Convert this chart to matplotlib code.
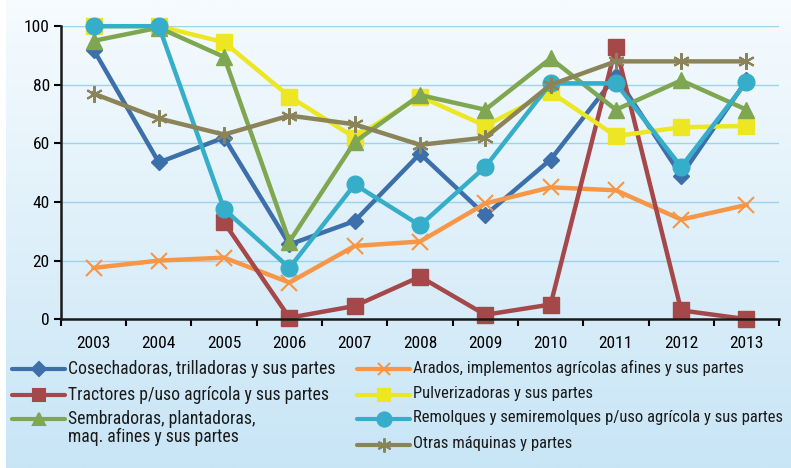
"""
Agricultural machinery index chart (2003-2013), seven series, light blue panel.
"""
import matplotlib

matplotlib.use("Agg")
import matplotlib.pyplot as plt
import numpy as np
from matplotlib.lines import Line2D

years = ["2003", "2004", "2005", "2006", "2007", "2008", "2009", "2010", "2011", "2012", "2013"]

cosechadoras = [92, 53.5, 62, 25.5, 33.5, 56.5, 35.5, 54.5, 83, 49, 81.5]
arados = [17.5, 20, 21, 12.5, 25, 26.5, 39.5, 45, 44, 34, 39]
tractores = [None, None, 33, 0.5, 4.5, 14.5, 1.5, 5, 93, 3, 0]
pulverizadoras = [100, 100, 94.5, 76, 62, 76, 66, 77.5, 62.5, 65.5, 66]
sembradoras = [95, 99.5, 89.5, 26.5, 60.5, 76.5, 71.5, 89, 71.5, 81.5, 71.5]
remolques = [100, 100, 37.5, 17.5, 46, 32, 52, 80.5, 80.5, 52, 81]
otras = [77, 68.5, 63, 69.5, 66.5, 59.5, 62, 80, 88, 88, 88]

labels = [
    "Cosechadoras, trilladoras y sus partes",
    "Arados, implementos agrícolas afines y sus partes",
    "Tractores p/uso agrícola y sus partes",
    "Pulverizadoras y sus partes",
    "Sembradoras, plantadoras,\nmaq. afines y sus partes",
    "Remolques y semiremolques p/uso agrícola y sus partes",
    "Otras máquinas y partes",
]

# (values, color, marker, markersize)
series = [
    (cosechadoras, "#3D6FAB", "D", 8),
    (arados, "#F79646", "x", 11),
    (tractores, "#A5484A", "s", 11),
    (pulverizadoras, "#EDE623", "s", 11),
    (sembradoras, "#7FA650", "^", 11),
    (remolques, "#36AECA", "o", 12),
    (otras, "#8C8459", (6, 2, 0), 12),
]

plt.rcParams["font.family"] = ["Roboto Condensed", "DejaVu Sans"]

fig = plt.figure(figsize=(7.91, 4.68), dpi=100)

# gradient background panel
bg = fig.add_axes([6 / 791, 0.0, 1 - 6 / 791, 1.0], zorder=-10)
grad = np.linspace(0, 1, 256).reshape(-1, 1)
cmap = matplotlib.colors.LinearSegmentedColormap.from_list("bg", ["#F6FBFE", "#C8E5F6"])
bg.imshow(grad, aspect="auto", cmap=cmap, extent=[0, 1, 0, 1], origin="upper")
bg.axis("off")

ax = fig.add_axes([0.077, 0.318, 0.908, 0.626])
ax.set_facecolor("none")
x = np.arange(len(years))
for vals, color, marker, ms in series:
    y = np.array([np.nan if v is None else v for v in vals], dtype=float)
    mew = 1.5 if marker in ("x", (6, 2, 0)) else 1
    ax.plot(x, y, color=color, lw=3.2, marker=marker, ms=ms, mec=color, mfc=color,
            mew=mew, clip_on=False)

ax.set_xlim(-0.5, len(years) - 0.5)
ax.set_ylim(0, 100)
ax.set_yticks([0, 20, 40, 60, 80, 100])
ax.set_xticks(x)
ax.set_xticklabels(years)
ax.set_xticks(np.arange(-0.5, len(years)), minor=True)
ax.tick_params(axis="x", which="major", length=0, pad=12, labelsize=12.5)
ax.tick_params(axis="x", which="minor", length=5, width=1.5, direction="out")
ax.tick_params(axis="y", length=5, width=1.5, labelsize=12.5, pad=3)
ax.grid(axis="y", color="#9ED3EC", lw=1)
ax.set_axisbelow(True)
for s in ("top", "right"):
    ax.spines[s].set_visible(False)
for s in ("left", "bottom"):
    ax.spines[s].set_linewidth(1.8)
    ax.spines[s].set_color("#1a1a1a")

# manual legend in two columns
col1 = [0, 2, 4]
col2 = [1, 3, 5, 6]
rows_y = [369, 395, 419, 445]
for col, x0, fs in ((col1, 12, 12.7), (col2, 357, 12)):
    for r, idx in enumerate(col):
        vals, color, marker, ms = series[idx]
        yf = 1 - rows_y[r] / 468
        fig.add_artist(Line2D([x0 / 791, (x0 + 53) / 791], [yf, yf], transform=fig.transFigure,
                              color=color, lw=3, solid_capstyle="round"))
        fig.add_artist(Line2D([(x0 + 26.5) / 791], [yf], transform=fig.transFigure,
                              color=color, marker=marker, ms=ms * 0.85, mec=color, mfc=color,
                              mew=1.5))
        fig.text((x0 + 56) / 791, yf + 9 / 468, labels[idx], ha="left", va="top",
                 fontsize=fs, color="#1a1a1a", linespacing=1.02)

fig.savefig("out.png", dpi=100)
